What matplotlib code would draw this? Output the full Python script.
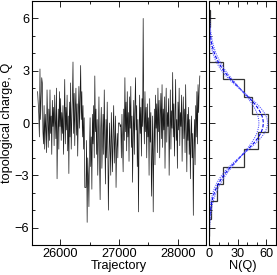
import numpy as np
import matplotlib
matplotlib.use('Agg')
import matplotlib.pyplot as plt
from matplotlib.ticker import MultipleLocator

plt.rcParams['font.family'] = ['Liberation Sans', 'DejaVu Sans']
plt.rcParams['font.size'] = 9.2

# topological charge history, one entry every 10 trajectories from 25620
traj_start = 25620
traj_step = 10
charge = [
    1.8, 1.2, 0.5, -0.8, 3.1, 0.2, 1.5, 2.6, 2.3,
    -0.5, -1.2, 1.0, -1.5, 0.5, -0.3, -1.7, 1.9, 0.2,
    -1.4, 0.8, -1.0, 1.9, -0.6, 0.4, -1.8, 1.3,
    -0.2, 0.9, -1.3, 1.6, 0.1, -0.9, 2.0, -3.2, -0.5,
    0.8, -1.5, 1.8, -0.2, 1.4, -1.0, 0.6, -0.6,
    1.0, -1.8, 0.3, 2.5, -1.2, 0.9, -0.4, 1.6, -1.6,
    0.4, -2.9, 1.2, -0.8, 2.3, -1.5, 0.2, 1.4,
    3.5, -0.6, 1.7, -1.3, 0.9, 2.0, -0.7, 1.1, -1.9,
    0.5, 2.1, -0.3, 1.5, 3.3, 0.2, 1.8, -0.8,
    1.0, -1.5, 0.3, -3.7, -3.7, -3.7, -1.0, -5.7, -2.0,
    -3.0, -4.8, -1.5, 0.3, -2.5, -0.8, -3.8, 0.5,
    -1.2, 1.0, -2.0, 2.7, -0.5, 0.8, -1.8, 0.2, -3.0,
    -1.0, 1.5, -2.2, -4.4, -0.3, 0.9, -2.6, -1.0,
    0.5, -1.8, 1.9, -0.6, -3.5, 0.2, -2.0, 1.2, -1.3,
    -5.0, -2.2, 0.0, -1.5, -3.0, 0.6, -1.0, -2.8,
    -0.4, 1.0, -2.3, -1.0, 0.4, -3.7, -1.5, -0.6, -2.0,
    0.0, 0.0, 0.0, -0.2, -0.1, -2.0, 0.5, -1.2,
    -2.8, 0.8, -1.0, 2.6, -0.5, 1.2, -1.6, 1.8, -0.8,
    0.6, -2.2, 1.5, -0.3, 2.1, -1.4, 0.4, -3.4,
    -0.6, 1.3, -1.8, 0.8, 2.6, -0.4, 1.0, -2.5, 0.2,
    -5.1, -1.0, 1.6, -0.6, 0.9, -1.9, 1.4, -0.2,
    6.0, 0.5, -1.2, 1.8, -0.5, 0.9, -2.0, 1.1, -0.8,
    0.3, -3.0, 1.4, -1.1, 0.6, -4.2, -2.0, 0.4,
    -5.1, -1.5, 0.8, -2.4, 1.6, -0.3, 1.1, -1.7, 2.0,
    -0.5, 1.3, -2.0, 0.5, 1.7, -0.9, 2.2, -1.4,
    0.8, -0.4, 1.5, -2.6, 0.3, 2.0, -1.1, 0.6, -0.2,
    1.4, -3.0, -0.6, 1.9, -1.5, 0.7, -0.3, 2.9,
    -0.8, 1.1, -1.9, 0.4, 2.5, -1.0, 0.2, -2.6, 1.2,
    -0.4, 2.0, -1.3, 0.6, -0.2, 1.6, -2.2, 0.3,
    1.5, -0.9, 0.8, -1.7, 2.2, -0.5, -2.8, 0.5, -1.0,
    0.9, -1.8, 0.2, -3.2, -1.0, 0.4, -2.0, -0.6,
    -5.3, -1.5, 0.2, -2.4, 1.0, -0.8, 1.8, -1.2, 2.2,
    0.6, 2.0, 2.7,
]
trajectory = traj_start + traj_step * np.arange(len(charge))

# histogram of rounded charge, bins centred on integers -6..6
hist_q = [-6, -5, -4, -3, -2, -1, 0, 1, 2, 3, 4, 5, 6]
hist_n = [0, 2, 8, 15, 37, 51, 62, 45, 37, 15, 0, 0, 1]

# gaussian fit: central value and error band (same total area)
fit_mu = 0.0
fit_sigma = [1.86, 1.72, 2.02]
fit_amp = [56.7, 61.2, 52.1]

fig = plt.figure(figsize=(2.77, 2.75), dpi=100)
ax = fig.add_axes([32/277, 30/275, 174/277, 244/275])
ax2 = fig.add_axes([209/277, 30/275, 67/277, 244/275])

ax.plot(trajectory, charge, color='#1a1a1a', lw=0.5)
ax.set_xlim(25525, 28475)
ax.set_ylim(-7, 7)
ax.set_xticks([26000, 27000, 28000])
ax.xaxis.set_minor_locator(MultipleLocator(500))
ax.set_yticks([-6, -3, 0, 3, 6])
ax.yaxis.set_minor_locator(MultipleLocator(1))
ax.set_xlabel('Trajectory', labelpad=0)
ax.set_ylabel('topological charge, Q', labelpad=1)

edges = np.append(np.array(hist_q) - 0.5, hist_q[-1] + 0.5)
ax2.stairs(hist_n, edges, orientation='horizontal', color='#333333', lw=0.9)
q = np.linspace(-7, 7, 300)
for k, (s, a) in enumerate(zip(fit_sigma, fit_amp)):
    n = a * np.exp(-(q - fit_mu)**2 / (2 * s**2))
    if k == 0:
        ax2.plot(n, q, color='#0000ee', lw=0.8, ls=(0, (3, 1.5)))
    else:
        ax2.plot(n, q, color='#5a5aff', lw=0.8, ls=(0, (1, 1)))
ax2.set_xlim(0, 70)
ax2.set_ylim(-7, 7)
ax2.set_xticks([0, 30, 60])
ax2.xaxis.set_minor_locator(MultipleLocator(10))
ax2.set_yticks([-6, -3, 0, 3, 6])
ax2.yaxis.set_minor_locator(MultipleLocator(1))
ax2.set_yticklabels([])
ax2.set_xlabel('N(Q)', labelpad=0)

for a in (ax, ax2):
    a.tick_params(which='both', direction='in', top=True, right=True, pad=2)
    a.tick_params(which='major', length=4, width=0.6)
    a.tick_params(which='minor', length=2, width=0.6)
    for sp in a.spines.values():
        sp.set_linewidth(0.8)

fig.savefig('out.png', dpi=100)
